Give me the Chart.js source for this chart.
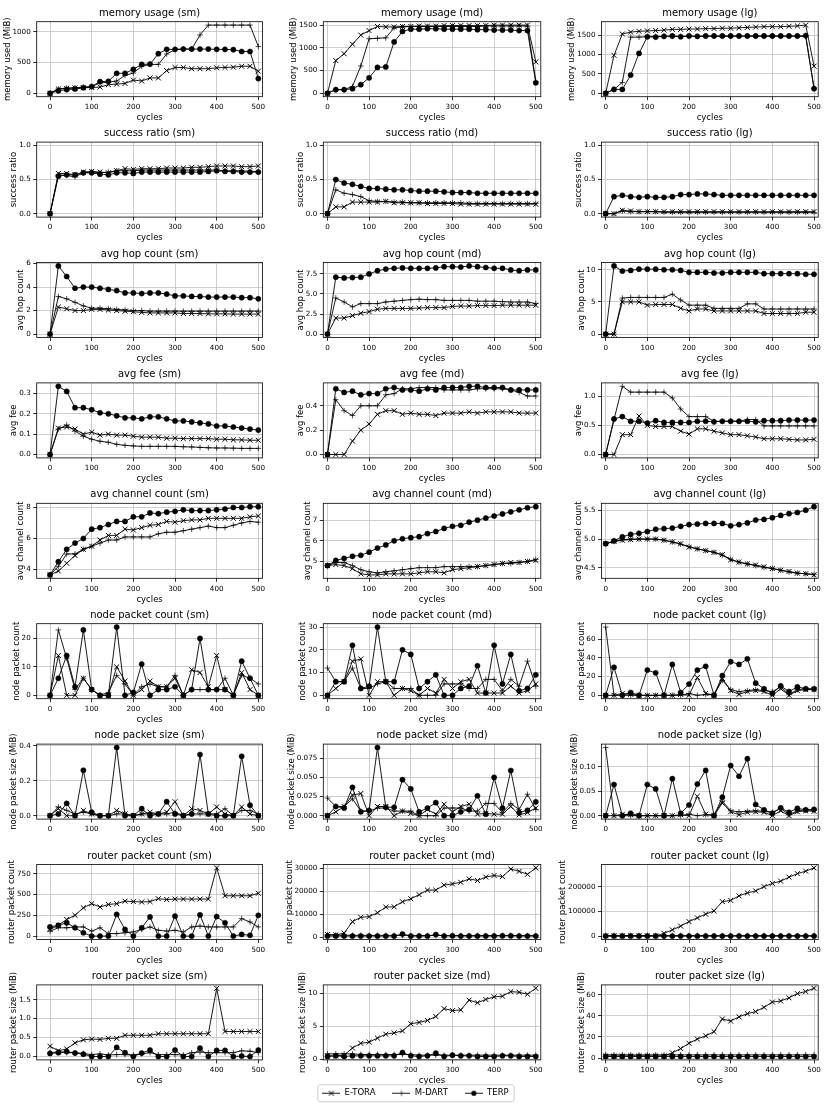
<!DOCTYPE html>
<html>
<head>
<meta charset="utf-8">
<script src="https://cdn.jsdelivr.net/npm/chart.js@4.4.1/dist/chart.umd.min.js"></script>
<style>
  html, body { margin: 0; padding: 0; background: #fff; }
  body { width: 831px; height: 1105px; position: relative; overflow: hidden; }
  canvas { position: absolute; }
</style>
</head>
<body>
<script>
/* ---------- data ---------- */
const cycles = [0, 20, 40, 60, 80, 100, 120, 140, 160, 180, 200, 220, 240, 260, 280, 300, 320, 340, 360, 380, 400, 420, 440, 460, 480, 500];
const cycleTicks = ['0', '100', '200', '300', '400', '500'];

// memory usage
const memSmETora = [0, 70, 80, 85, 90, 95, 100, 140, 150, 160, 215, 200, 250, 250, 370, 420, 420, 400, 400, 400, 415, 420, 425, 440, 440, 360];
const memSmMDart = [0, 70, 85, 90, 100, 110, 170, 180, 200, 290, 330, 440, 470, 470, 640, 710, 720, 720, 950, 1110, 1110, 1110, 1110, 1110, 1110, 760];
const memSmTerp = [0, 40, 60, 70, 90, 110, 190, 195, 325, 325, 390, 470, 475, 645, 715, 715, 720, 720, 720, 720, 715, 715, 710, 680, 680, 240];
const memSmTicks = ['0', '500', '1000'];
const memMdETora = [0, 720, 870, 1080, 1280, 1380, 1470, 1460, 1460, 1470, 1470, 1480, 1480, 1480, 1490, 1490, 1490, 1490, 1490, 1490, 1500, 1500, 1500, 1500, 1500, 690];
const memMdMDart = [0, 80, 80, 150, 600, 1200, 1210, 1220, 1440, 1460, 1470, 1470, 1470, 1470, 1470, 1470, 1470, 1470, 1470, 1480, 1480, 1480, 1480, 1480, 1480, 260];
const memMdTerp = [0, 80, 80, 100, 190, 340, 570, 580, 1130, 1360, 1410, 1410, 1420, 1420, 1410, 1410, 1410, 1410, 1400, 1400, 1390, 1390, 1390, 1380, 1380, 230];
const memMdTicks = ['0', '500', '1000', '1500'];
const memLgETora = [0, 980, 1530, 1580, 1600, 1610, 1620, 1630, 1650, 1650, 1660, 1660, 1670, 1670, 1680, 1680, 1690, 1700, 1710, 1720, 1720, 1720, 1730, 1740, 1760, 700];
const memLgMDart = [0, 100, 280, 1450, 1450, 1460, 1470, 1470, 1470, 1470, 1470, 1470, 1470, 1470, 1470, 1470, 1470, 1470, 1470, 1470, 1470, 1470, 1470, 1470, 1470, 130];
const memLgTerp = [0, 100, 100, 470, 1030, 1460, 1450, 1470, 1480, 1460, 1480, 1470, 1480, 1480, 1480, 1480, 1480, 1480, 1480, 1480, 1480, 1480, 1480, 1480, 1490, 120];
const memLgTicks = ['0', '500', '1000', '1500'];

// success ratio
const succSmETora = [0, 0.59, 0.59, 0.57, 0.61, 0.62, 0.61, 0.60, 0.63, 0.66, 0.65, 0.66, 0.66, 0.66, 0.67, 0.67, 0.67, 0.68, 0.68, 0.69, 0.70, 0.70, 0.70, 0.69, 0.69, 0.70];
const succSmMDart = [0, 0.57, 0.56, 0.54, 0.60, 0.61, 0.60, 0.61, 0.63, 0.63, 0.63, 0.64, 0.64, 0.64, 0.64, 0.64, 0.64, 0.64, 0.64, 0.64, 0.64, 0.63, 0.63, 0.63, 0.62, 0.62];
const succSmTerp = [0, 0.55, 0.57, 0.57, 0.60, 0.60, 0.58, 0.57, 0.60, 0.60, 0.59, 0.61, 0.61, 0.61, 0.61, 0.61, 0.61, 0.61, 0.61, 0.62, 0.63, 0.62, 0.62, 0.61, 0.61, 0.61];
const succMdETora = [0, 0.10, 0.10, 0.17, 0.17, 0.17, 0.17, 0.18, 0.16, 0.16, 0.16, 0.16, 0.15, 0.15, 0.15, 0.15, 0.14, 0.14, 0.14, 0.14, 0.14, 0.14, 0.14, 0.14, 0.14, 0.14];
const succMdMDart = [0, 0.35, 0.30, 0.28, 0.25, 0.19, 0.18, 0.18, 0.17, 0.17, 0.16, 0.16, 0.16, 0.16, 0.16, 0.16, 0.16, 0.15, 0.15, 0.15, 0.15, 0.15, 0.15, 0.15, 0.15, 0.15];
const succMdTerp = [0, 0.50, 0.45, 0.43, 0.40, 0.37, 0.37, 0.36, 0.35, 0.35, 0.34, 0.33, 0.33, 0.33, 0.32, 0.31, 0.31, 0.31, 0.30, 0.30, 0.30, 0.30, 0.30, 0.30, 0.30, 0.30];
const succLgETora = [0, 0, 0.05, 0.04, 0.03, 0.03, 0.03, 0.03, 0.03, 0.03, 0.03, 0.03, 0.03, 0.03, 0.03, 0.03, 0.03, 0.03, 0.03, 0.03, 0.03, 0.03, 0.03, 0.03, 0.03, 0.03];
const succLgMDart = [0, 0, 0.04, 0.03, 0.03, 0.03, 0.03, 0.02, 0.02, 0.02, 0.02, 0.02, 0.02, 0.02, 0.02, 0.02, 0.02, 0.02, 0.02, 0.02, 0.02, 0.02, 0.02, 0.02, 0.02, 0.02];
const succLgTerp = [0, 0.25, 0.27, 0.25, 0.24, 0.25, 0.24, 0.24, 0.25, 0.28, 0.28, 0.29, 0.29, 0.28, 0.27, 0.27, 0.27, 0.27, 0.27, 0.27, 0.27, 0.27, 0.27, 0.27, 0.27, 0.27];
const succTicks = ['0.0', '0.5', '1.0'];
const succLimits = [-0.05, 1.05];

// avg hop count
const hopSmETora = [0, 2.3, 2.15, 2.0, 2.0, 2.1, 2.1, 2.05, 2.0, 1.95, 1.9, 1.85, 1.8, 1.8, 1.8, 1.8, 1.75, 1.75, 1.75, 1.72, 1.72, 1.72, 1.7, 1.7, 1.7, 1.7];
const hopSmMDart = [0, 3.2, 3.0, 2.7, 2.4, 2.2, 2.2, 2.15, 2.1, 2.05, 2.0, 2.0, 1.95, 1.95, 1.95, 1.95, 1.95, 1.95, 1.95, 1.95, 1.95, 1.95, 1.95, 1.95, 1.95, 1.95];
const hopSmTerp = [0, 5.8, 4.9, 3.9, 4.0, 4.0, 3.9, 3.8, 3.7, 3.5, 3.5, 3.45, 3.5, 3.5, 3.4, 3.25, 3.25, 3.2, 3.2, 3.15, 3.15, 3.15, 3.15, 3.1, 3.1, 3.0];
const hopSmTicks = ['0', '2', '4', '6'];
const hopMdETora = [0, 2.0, 2.0, 2.3, 2.6, 2.8, 3.1, 3.2, 3.2, 3.2, 3.2, 3.25, 3.3, 3.3, 3.3, 3.45, 3.5, 3.5, 3.55, 3.55, 3.55, 3.6, 3.6, 3.6, 3.6, 3.6];
const hopMdMDart = [0, 4.5, 4.0, 3.4, 3.8, 3.8, 3.8, 4.0, 4.1, 4.2, 4.3, 4.35, 4.3, 4.3, 4.2, 4.2, 4.2, 4.2, 4.1, 4.1, 4.1, 4.05, 4.0, 4.0, 4.0, 3.8];
const hopMdTerp = [0, 7.1, 7.0, 7.05, 7.1, 7.5, 7.9, 8.1, 8.2, 8.25, 8.2, 8.2, 8.2, 8.25, 8.4, 8.4, 8.35, 8.5, 8.4, 8.3, 8.2, 8.2, 8.0, 7.9, 8.0, 8.0];
const hopMdTicks = ['0.0', '2.5', '5.0', '7.5'];
const hopLgETora = [0, 0, 5.0, 5.0, 5.0, 4.5, 4.6, 4.6, 4.6, 4.0, 3.6, 3.9, 3.9, 3.6, 3.6, 3.6, 3.6, 3.6, 3.6, 3.2, 3.2, 3.2, 3.2, 3.2, 3.4, 3.4];
const hopLgMDart = [0, 0, 5.6, 5.7, 5.7, 5.7, 5.7, 5.7, 6.2, 5.3, 4.5, 4.5, 4.5, 4.0, 4.0, 4.0, 4.0, 4.7, 4.7, 3.9, 3.9, 3.9, 3.9, 3.9, 3.9, 3.9];
const hopLgTerp = [0, 10.6, 9.8, 9.9, 10.1, 10.1, 10.1, 10.0, 10.0, 9.9, 9.6, 9.6, 9.6, 9.5, 9.5, 9.6, 9.6, 9.6, 9.6, 9.4, 9.4, 9.4, 9.4, 9.4, 9.3, 9.3];
const hopLgTicks = ['0', '5', '10'];

// avg fee
const feeSmETora = [0, 0.13, 0.135, 0.125, 0.10, 0.11, 0.095, 0.10, 0.095, 0.095, 0.09, 0.085, 0.085, 0.085, 0.08, 0.08, 0.078, 0.078, 0.078, 0.078, 0.075, 0.075, 0.072, 0.072, 0.07, 0.07];
const feeSmMDart = [0, 0.125, 0.145, 0.115, 0.09, 0.075, 0.065, 0.06, 0.05, 0.045, 0.042, 0.04, 0.04, 0.04, 0.04, 0.04, 0.038, 0.037, 0.035, 0.033, 0.032, 0.032, 0.031, 0.03, 0.03, 0.03];
const feeSmTerp = [0, 0.335, 0.31, 0.23, 0.23, 0.22, 0.205, 0.20, 0.19, 0.18, 0.18, 0.175, 0.185, 0.185, 0.175, 0.165, 0.165, 0.16, 0.155, 0.15, 0.14, 0.14, 0.135, 0.13, 0.125, 0.12];
const feeSmTicks = ['0.0', '0.1', '0.2', '0.3'];
const feeMdETora = [0, 0, 0, 0.11, 0.20, 0.25, 0.33, 0.36, 0.36, 0.33, 0.34, 0.33, 0.33, 0.32, 0.34, 0.34, 0.34, 0.35, 0.34, 0.35, 0.35, 0.35, 0.35, 0.34, 0.34, 0.34];
const feeMdMDart = [0, 0.45, 0.36, 0.32, 0.40, 0.40, 0.40, 0.49, 0.50, 0.54, 0.54, 0.55, 0.55, 0.55, 0.53, 0.53, 0.53, 0.53, 0.54, 0.54, 0.54, 0.54, 0.53, 0.51, 0.48, 0.48];
const feeMdTerp = [0, 0.54, 0.51, 0.52, 0.49, 0.50, 0.50, 0.54, 0.55, 0.53, 0.53, 0.52, 0.54, 0.53, 0.55, 0.55, 0.55, 0.56, 0.56, 0.55, 0.55, 0.55, 0.53, 0.53, 0.53, 0.53];
const feeMdTicks = ['0.0', '0.2', '0.4'];
const feeLgETora = [0, 0, 0.34, 0.34, 0.66, 0.50, 0.48, 0.48, 0.48, 0.40, 0.35, 0.44, 0.44, 0.40, 0.37, 0.34, 0.34, 0.32, 0.30, 0.27, 0.27, 0.27, 0.26, 0.25, 0.25, 0.26];
const feeLgMDart = [0, 0.6, 1.17, 1.07, 1.07, 1.07, 1.07, 1.07, 0.97, 0.78, 0.65, 0.65, 0.65, 0.57, 0.57, 0.57, 0.57, 0.60, 0.60, 0.49, 0.49, 0.49, 0.49, 0.49, 0.49, 0.49];
const feeLgTerp = [0, 0.61, 0.65, 0.57, 0.57, 0.54, 0.58, 0.55, 0.55, 0.55, 0.55, 0.57, 0.57, 0.56, 0.57, 0.57, 0.57, 0.57, 0.56, 0.58, 0.58, 0.58, 0.59, 0.59, 0.59, 0.59];
const feeLgTicks = ['0.0', '0.5', '1.0'];

// avg channel count
const chanSmETora = [3.65, 3.9, 4.4, 4.9, 5.3, 5.5, 5.9, 6.2, 6.2, 6.6, 6.55, 6.7, 6.85, 6.9, 7.1, 7.05, 7.15, 7.2, 7.2, 7.3, 7.3, 7.3, 7.3, 7.3, 7.4, 7.45];
const chanSmMDart = [3.65, 4.2, 5.0, 5.0, 5.3, 5.5, 5.7, 5.9, 5.9, 6.1, 6.1, 6.1, 6.1, 6.3, 6.4, 6.4, 6.5, 6.6, 6.7, 6.8, 6.7, 6.7, 6.85, 7.0, 7.1, 7.05];
const chanSmTerp = [3.65, 4.5, 5.3, 5.7, 6.0, 6.6, 6.7, 6.9, 7.1, 7.1, 7.4, 7.4, 7.65, 7.6, 7.7, 7.75, 7.85, 7.8, 7.8, 7.8, 7.85, 7.9, 8.0, 8.0, 8.05, 8.05];
const chanSmTicks = ['4', '6', '8'];
const chanMdETora = [4.8, 4.85, 4.8, 4.65, 4.4, 4.35, 4.35, 4.4, 4.4, 4.4, 4.4, 4.45, 4.5, 4.5, 4.45, 4.6, 4.65, 4.7, 4.75, 4.8, 4.85, 4.9, 4.95, 4.95, 5.0, 5.05];
const chanMdMDart = [4.8, 4.95, 4.95, 4.8, 4.6, 4.5, 4.45, 4.5, 4.55, 4.6, 4.65, 4.7, 4.7, 4.7, 4.75, 4.75, 4.75, 4.75, 4.75, 4.8, 4.85, 4.9, 4.9, 4.95, 5.0, 5.1];
const chanMdTerp = [4.8, 5.05, 5.15, 5.25, 5.3, 5.45, 5.65, 5.8, 6.0, 6.1, 6.15, 6.2, 6.35, 6.45, 6.6, 6.7, 6.75, 6.9, 7.0, 7.1, 7.2, 7.3, 7.4, 7.5, 7.6, 7.65];
const chanMdTicks = ['5', '6', '7'];
const chanLgETora = [4.92, 4.96, 4.98, 4.99, 5.0, 5.0, 5.0, 4.98, 4.95, 4.92, 4.86, 4.83, 4.80, 4.77, 4.73, 4.64, 4.60, 4.57, 4.55, 4.52, 4.49, 4.46, 4.44, 4.41, 4.40, 4.38];
const chanLgMDart = [4.92, 4.96, 4.99, 5.0, 5.0, 5.0, 5.0, 4.98, 4.95, 4.91, 4.87, 4.83, 4.80, 4.77, 4.72, 4.65, 4.60, 4.57, 4.54, 4.51, 4.49, 4.46, 4.43, 4.41, 4.40, 4.39];
const chanLgTerp = [4.92, 4.97, 5.04, 5.08, 5.10, 5.13, 5.17, 5.18, 5.19, 5.22, 5.25, 5.26, 5.27, 5.27, 5.27, 5.23, 5.25, 5.28, 5.33, 5.34, 5.37, 5.41, 5.44, 5.46, 5.50, 5.56];
const chanLgTicks = ['4.5', '5.0', '5.5'];

// node packet count
const npcSmETora = [0, 14, 0, 0, 6, 2, 0, 0, 10, 5, 0, 2, 5, 3, 3, 6, 0, 9, 8, 3, 14, 2, 0, 8, 2, 0];
const npcSmMDart = [0, 23, 13, 2, 6, 2, 0, 1, 7, 4, 0, 3, 4, 3, 3, 7, 0, 2, 2, 2, 2, 6, 0, 7, 6, 4];
const npcSmTerp = [0, 6, 14, 3, 23, 2, 0, 0, 24, 0, 1, 11, 0, 2, 2, 3, 0, 2, 20, 2, 2, 2, 0, 12, 6, 0];
const npcSmTicks = ['0', '10', '20'];
const npcMdETora = [0, 3, 6, 15, 16, 0, 6, 6, 0, 3, 2, 0, 3, 1, 7, 3, 6, 7, 1, 1, 1, 1, 4, 1, 2, 5];
const npcMdMDart = [12, 6, 6, 12, 3, 3, 5, 6, 3, 3, 3, 0, 0, 0, 5, 5, 5, 3, 3, 7, 7, 2, 7, 4, 15, 4];
const npcMdTerp = [0, 6, 6, 22, 3, 4, 30, 6, 6, 20, 18, 3, 6, 9, 0, 0, 3, 4, 13, 1, 22, 5, 18, 2, 3, 9];
const npcMdTicks = ['0', '10', '20', '30'];
const npcLgETora = [0, 0, 2, 1, 0, 0, 0, 0, 0, 1, 0, 19, 2, 0, 18, 5, 1, 4, 5, 4, 0, 7, 0, 5, 6, 6];
const npcLgMDart = [73, 0, 0, 0, 0, 0, 0, 0, 0, 0, 2, 0, 1, 1, 16, 6, 4, 5, 6, 5, 4, 9, 1, 6, 7, 6];
const npcLgTerp = [0, 30, 0, 3, 0, 27, 24, 0, 33, 3, 12, 27, 31, 0, 21, 36, 33, 39, 13, 7, 2, 10, 4, 9, 7, 7];
const npcLgTicks = ['0', '20', '40', '60'];

// node packet size
const npsSmETora = [0, 0.04, 0, 0, 0.03, 0.01, 0, 0, 0.03, 0.01, 0, 0.01, 0.02, 0.01, 0.02, 0.08, 0, 0.04, 0.03, 0.01, 0.05, 0.01, 0, 0.05, 0.01, 0];
const npsSmMDart = [0, 0.05, 0.03, 0.01, 0.02, 0.01, 0, 0, 0.01, 0.01, 0, 0.01, 0.01, 0.01, 0.01, 0.02, 0, 0.01, 0.01, 0.01, 0.01, 0.04, 0, 0.03, 0.03, 0.01];
const npsSmTerp = [0, 0.01, 0.07, 0, 0.26, 0.02, 0, 0, 0.39, 0, 0, 0.04, 0, 0.01, 0.08, 0.01, 0, 0.01, 0.35, 0.01, 0, 0, 0, 0.34, 0.06, 0];
const npsSmTicks = ['0.0', '0.2', '0.4'];
const npsMdETora = [0, 0.005, 0.012, 0.027, 0.029, 0, 0.012, 0.012, 0, 0.006, 0.003, 0, 0.008, 0.002, 0.015, 0.005, 0.012, 0.015, 0.002, 0.003, 0.002, 0.002, 0.012, 0.001, 0.004, 0.01];
const npsMdMDart = [0.023, 0.012, 0.012, 0.022, 0.006, 0.006, 0.01, 0.01, 0.006, 0.006, 0.006, 0, 0, 0, 0.01, 0.01, 0.01, 0.006, 0.006, 0.016, 0.016, 0.004, 0.016, 0.008, 0.028, 0.008];
const npsMdTerp = [0, 0.012, 0.01, 0.037, 0.005, 0.007, 0.089, 0.011, 0.011, 0.047, 0.035, 0.005, 0.01, 0.017, 0, 0, 0.005, 0.008, 0.026, 0.002, 0.05, 0.01, 0.059, 0.004, 0.007, 0.018];
const npsMdTicks = ['0.000', '0.025', '0.050', '0.075'];
const npsLgETora = [0, 0, 0.003, 0.002, 0, 0, 0, 0, 0, 0.002, 0, 0.04, 0.003, 0, 0.026, 0.008, 0.002, 0.007, 0.008, 0.007, 0, 0.01, 0, 0.008, 0.01, 0.009];
const npsLgMDart = [0.14, 0, 0, 0, 0, 0, 0, 0, 0, 0, 0.003, 0, 0.002, 0.001, 0.03, 0.01, 0.008, 0.009, 0.01, 0.009, 0.007, 0.015, 0.002, 0.01, 0.012, 0.011];
const npsLgTerp = [0, 0.064, 0, 0.005, 0, 0.064, 0.055, 0, 0.076, 0.005, 0.022, 0.065, 0.093, 0, 0.038, 0.103, 0.081, 0.117, 0.023, 0.012, 0.005, 0.016, 0.007, 0.015, 0.012, 0.013];
const npsLgTicks = ['0.00', '0.05', '0.10'];

// router packet count
const rpcSmETora = [80, 130, 200, 250, 340, 390, 350, 380, 390, 420, 415, 410, 415, 450, 440, 445, 445, 445, 445, 445, 820, 485, 485, 485, 485, 515];
const rpcSmMDart = [60, 100, 100, 110, 110, 60, 100, 30, 30, 40, 50, 80, 110, 70, 60, 70, 50, 110, 120, 110, 110, 110, 110, 210, 170, 110];
const rpcSmTerp = [110, 130, 160, 100, 40, 0, 0, 0, 260, 80, 0, 100, 230, 0, 0, 240, 0, 0, 255, 0, 235, 160, 0, 20, 10, 250];
const rpcSmTicks = ['0', '250', '500', '750'];
const rpcMdETora = [1200, 1000, 1800, 6800, 8700, 9000, 10700, 13200, 13300, 15500, 16800, 18600, 20600, 20600, 22800, 23300, 24000, 25500, 24800, 26300, 27000, 26500, 29800, 28800, 27500, 30300];
const rpcMdMDart = [1000, 950, 900, 850, 850, 800, 800, 800, 800, 800, 800, 750, 750, 750, 750, 750, 750, 750, 750, 750, 750, 750, 750, 750, 700, 700];
const rpcMdTerp = [500, 500, 500, 500, 500, 500, 500, 500, 500, 1400, 500, 500, 500, 1200, 500, 600, 500, 500, 500, 500, 500, 600, 600, 500, 500, 500];
const rpcMdTicks = ['0', '10000', '20000', '30000'];
const rpcLgETora = [3000, 3000, 3000, 3000, 3000, 3000, 3000, 13000, 27000, 42000, 60000, 75000, 90000, 103000, 140000, 145000, 163000, 175000, 183000, 200000, 213000, 222000, 238000, 252000, 262000, 275000];
const rpcLgMDart = [4500, 4500, 4400, 4400, 4300, 4300, 4300, 4200, 4200, 4200, 4200, 4200, 4100, 4100, 4100, 4100, 4100, 4100, 4000, 4000, 4000, 4000, 4000, 4000, 4000, 4000];
const rpcLgTerp = [2000, 2000, 2000, 2000, 2000, 2000, 2000, 2000, 2100, 2000, 2000, 2000, 2000, 2000, 2000, 2000, 2000, 2000, 2000, 2000, 2000, 2000, 2000, 2000, 2000, 2000];
const rpcLgTicks = ['0', '100000', '200000'];

// router packet size
const rpsSmETora = [0.27, 0.15, 0.2, 0.36, 0.44, 0.46, 0.45, 0.48, 0.48, 0.56, 0.56, 0.56, 0.56, 0.60, 0.60, 0.60, 0.60, 0.60, 0.60, 0.60, 1.80, 0.66, 0.66, 0.66, 0.66, 0.66];
const rpsSmMDart = [0.1, 0.12, 0.1, 0.1, 0.08, 0.05, 0.07, 0.04, 0.05, 0.05, 0.04, 0.07, 0.1, 0.05, 0.05, 0.05, 0.04, 0.1, 0.12, 0.1, 0.1, 0.1, 0.1, 0.15, 0.14, 0.1];
const rpsSmTerp = [0.08, 0.1, 0.13, 0.09, 0.06, 0, 0, 0, 0.24, 0.1, 0, 0.09, 0.17, 0, 0, 0.17, 0, 0, 0.22, 0, 0.16, 0.16, 0, 0.01, 0, 0.17];
const rpsSmTicks = ['0.0', '0.5', '1.0', '1.5'];
const rpsMdETora = [0.5, 0.5, 0.6, 1.7, 2.4, 2.6, 3.2, 3.8, 4.0, 4.3, 5.4, 5.6, 5.9, 6.5, 7.7, 7.4, 7.5, 9.0, 8.6, 9.1, 9.5, 9.6, 10.3, 10.2, 9.9, 10.8];
const rpsMdMDart = [0.8, 0.8, 0.8, 0.8, 0.7, 0.7, 0.7, 0.7, 0.7, 0.7, 0.7, 0.6, 0.6, 0.6, 0.6, 0.6, 0.6, 0.6, 0.6, 0.6, 0.6, 0.6, 0.6, 0.6, 0.6, 0.6];
const rpsMdTerp = [0.4, 0.5, 0.4, 0.5, 0.5, 0.5, 0.5, 0.5, 0.5, 1.0, 0.5, 0.4, 0.5, 0.9, 0.4, 0.6, 0.5, 0.5, 0.4, 0.4, 0.4, 0.5, 0.5, 0.4, 0.4, 0.4];
const rpsMdTicks = ['0', '5', '10'];
const rpsLgETora = [2, 2, 2, 2, 2, 2, 2, 2, 5, 9, 14, 18, 21, 25, 37, 35, 39, 42, 44, 48, 53, 54, 57, 61, 63, 66];
const rpsLgMDart = [3.2, 3.1, 3.1, 3.0, 3.0, 3.0, 3.0, 3.0, 3.0, 3.0, 3.0, 3.0, 3.0, 3.0, 3.0, 3.0, 3.0, 3.0, 3.0, 3.0, 3.0, 3.0, 3.0, 3.0, 3.0, 3.0];
const rpsLgTerp = [1.5, 1.5, 1.5, 1.5, 1.5, 1.5, 1.5, 1.5, 1.5, 1.5, 1.5, 1.5, 1.5, 1.5, 1.5, 1.5, 1.5, 1.5, 1.5, 1.5, 1.5, 1.5, 1.5, 1.5, 1.5, 1.5];
const rpsLgTicks = ['0', '20', '40', '60'];

const seriesNames = ['E-TORA', 'M-DART', 'TERP'];

// one row per subplot: title, y label, E-TORA, M-DART, TERP, y tick labels, fixed limits
const panels = [
  ['memory usage (sm)', 'memory used (MiB)', memSmETora, memSmMDart, memSmTerp, memSmTicks],
  ['memory usage (md)', 'memory used (MiB)', memMdETora, memMdMDart, memMdTerp, memMdTicks],
  ['memory usage (lg)', 'memory used (MiB)', memLgETora, memLgMDart, memLgTerp, memLgTicks],
  ['success ratio (sm)', 'success ratio', succSmETora, succSmMDart, succSmTerp, succTicks, succLimits],
  ['success ratio (md)', 'success ratio', succMdETora, succMdMDart, succMdTerp, succTicks, succLimits],
  ['success ratio (lg)', 'success ratio', succLgETora, succLgMDart, succLgTerp, succTicks, succLimits],
  ['avg hop count (sm)', 'avg hop count', hopSmETora, hopSmMDart, hopSmTerp, hopSmTicks],
  ['avg hop count (md)', 'avg hop count', hopMdETora, hopMdMDart, hopMdTerp, hopMdTicks],
  ['avg hop count (lg)', 'avg hop count', hopLgETora, hopLgMDart, hopLgTerp, hopLgTicks],
  ['avg fee (sm)', 'avg fee', feeSmETora, feeSmMDart, feeSmTerp, feeSmTicks],
  ['avg fee (md)', 'avg fee', feeMdETora, feeMdMDart, feeMdTerp, feeMdTicks],
  ['avg fee (lg)', 'avg fee', feeLgETora, feeLgMDart, feeLgTerp, feeLgTicks],
  ['avg channel count (sm)', 'avg channel count', chanSmETora, chanSmMDart, chanSmTerp, chanSmTicks],
  ['avg channel count (md)', 'avg channel count', chanMdETora, chanMdMDart, chanMdTerp, chanMdTicks],
  ['avg channel count (lg)', 'avg channel count', chanLgETora, chanLgMDart, chanLgTerp, chanLgTicks],
  ['node packet count (sm)', 'node packet count', npcSmETora, npcSmMDart, npcSmTerp, npcSmTicks],
  ['node packet count (md)', 'node packet count', npcMdETora, npcMdMDart, npcMdTerp, npcMdTicks],
  ['node packet count (lg)', 'node packet count', npcLgETora, npcLgMDart, npcLgTerp, npcLgTicks],
  ['node packet size (sm)', 'node packet size (MiB)', npsSmETora, npsSmMDart, npsSmTerp, npsSmTicks],
  ['node packet size (md)', 'node packet size (MiB)', npsMdETora, npsMdMDart, npsMdTerp, npsMdTicks],
  ['node packet size (lg)', 'node packet size (MiB)', npsLgETora, npsLgMDart, npsLgTerp, npsLgTicks],
  ['router packet count (sm)', 'router packet count', rpcSmETora, rpcSmMDart, rpcSmTerp, rpcSmTicks],
  ['router packet count (md)', 'router packet count', rpcMdETora, rpcMdMDart, rpcMdTerp, rpcMdTicks],
  ['router packet count (lg)', 'router packet count', rpcLgETora, rpcLgMDart, rpcLgTerp, rpcLgTicks],
  ['router packet size (sm)', 'router packet size (MiB)', rpsSmETora, rpsSmMDart, rpsSmTerp, rpsSmTicks],
  ['router packet size (md)', 'router packet size (MiB)', rpsMdETora, rpsMdMDart, rpsMdTerp, rpsMdTicks],
  ['router packet size (lg)', 'router packet size (MiB)', rpsLgETora, rpsLgMDart, rpsLgTerp, rpsLgTicks]
];

/* ---------- layout ---------- */
const FONT = '"DejaVu Sans", sans-serif';
const TICK_SIZE = 7.2, TITLE_SIZE = 10, LABEL_SIZE = 8.5, LEGEND_SIZE = 8.5;
const GRID = '#c2c2c2';

const colPlotLeft = [36.7, 323.3, 601.5];
const colPlotW = [225.8, 217.5, 216.7];
const colXMin = [-32, -10, -10];
const colXMax = [510, 512, 510];
const colCanvasLeft = [0, 272, 550];
const rowTop0 = 21.7, rowPitch = 120.4, plotH = 75;

Chart.defaults.font.family = FONT;
Chart.defaults.color = '#000';
Chart.defaults.animation = false;

const measure = document.createElement('canvas').getContext('2d');
measure.font = TICK_SIZE + 'px ' + FONT;

const framePlugin = {
  id: 'frame',
  afterDraw(chart) {
    const { ctx, chartArea: a } = chart;
    ctx.save();
    ctx.strokeStyle = '#000';
    ctx.lineWidth = 0.8;
    ctx.strokeRect(a.left, a.top, a.right - a.left, a.bottom - a.top);
    ctx.restore();
  }
};

function seriesStyle(name) {
  const base = { borderColor: '#000', borderWidth: 0.9, pointBorderColor: '#000', pointBackgroundColor: '#000', tension: 0 };
  if (name === 'E-TORA') return Object.assign(base, { pointStyle: 'crossRot', pointRadius: 3.5, pointBorderWidth: 1 });
  if (name === 'M-DART') return Object.assign(base, { pointStyle: 'cross', pointRadius: 2.8, pointBorderWidth: 0.7 });
  return Object.assign(base, { pointStyle: 'circle', pointRadius: 2.6, pointBorderWidth: 0.5 });
}

function makeCanvas(left, top, w, h) {
  const cv = document.createElement('canvas');
  cv.width = w; cv.height = h;
  cv.style.left = left + 'px'; cv.style.top = top + 'px';
  cv.style.width = w + 'px'; cv.style.height = h + 'px';
  document.body.appendChild(cv);
  return cv;
}

panels.forEach((p, idx) => {
  const [title, ylabel, eTora, mDart, terp, yTickLabels, limits] = p;
  const row = Math.floor(idx / 3), col = idx % 3;
  const plotLeft = colPlotLeft[col], plotW = colPlotW[col];
  const plotTop = rowTop0 + rowPitch * row;
  const canvasLeft = colCanvasLeft[col];
  const canvasTop = Math.floor(plotTop - 15);
  const titleH = plotTop - canvasTop;
  const yW = plotLeft - canvasLeft;
  const canvasW = Math.ceil(yW + plotW + 8);
  const canvasH = Math.ceil(titleH + plotH + 28);
  const xAxisH = canvasH - titleH - plotH;

  // axis limits: 5% margins around the data, as matplotlib does
  let lo, hi;
  if (limits) { [lo, hi] = limits; } else {
    const all = eTora.concat(mDart, terp);
    const mn = Math.min(...all), mx = Math.max(...all);
    lo = mn - 0.05 * (mx - mn); hi = mx + 0.05 * (mx - mn);
  }
  const yTickVals = yTickLabels.map(Number);
  const xTickVals = cycleTicks.map(Number);

  // y label sits left of the widest tick label
  const widest = Math.max(...yTickLabels.map(t => measure.measureText(t).width));
  const labelCenter = plotLeft - 3.5 - 2.5 - widest - 5;
  const yTitlePad = Math.max(0, labelCenter - canvasLeft - LABEL_SIZE * 1.2 / 2);

  const toPts = arr => cycles.map((c, i) => ({ x: c, y: arr[i] }));
  const datasets = [
    Object.assign({ label: seriesNames[2], data: toPts(terp) }, seriesStyle('TERP')),
    Object.assign({ label: seriesNames[1], data: toPts(mDart) }, seriesStyle('M-DART')),
    Object.assign({ label: seriesNames[0], data: toPts(eTora) }, seriesStyle('E-TORA'))
  ];

  const cv = makeCanvas(canvasLeft, canvasTop, canvasW, canvasH);
  new Chart(cv, {
    type: 'line',
    data: { datasets },
    options: {
      responsive: false,
      animation: false,
      events: [],
      layout: { padding: { left: 0, top: 0, bottom: 0, right: canvasW - yW - plotW } },
      plugins: {
        legend: { display: false },
        tooltip: { enabled: false },
        title: {
          display: true, text: title, color: '#000', fullSize: false,
          font: { size: TITLE_SIZE, weight: 'normal', lineHeight: 1.2 },
          padding: { top: titleH - 12 - 2.4, bottom: 2.4 }
        }
      },
      scales: {
        x: {
          type: 'linear', min: colXMin[col], max: colXMax[col],
          afterBuildTicks: s => { s.ticks = xTickVals.map(v => ({ value: v })); },
          afterFit: s => { s.height = xAxisH; },
          ticks: { autoSkip: false, maxRotation: 0, padding: 2.6, font: { size: TICK_SIZE }, callback: (v, i) => cycleTicks[i] },
          grid: { color: GRID, lineWidth: 0.8, tickLength: 3.5, tickColor: '#000', tickWidth: 0.8 },
          border: { display: false },
          title: { display: true, text: 'cycles', font: { size: LABEL_SIZE, lineHeight: 1.2 }, padding: { top: 0, bottom: xAxisH - 21 - LABEL_SIZE * 0.6 } }
        },
        y: {
          type: 'linear', min: lo, max: hi,
          afterBuildTicks: s => { s.ticks = yTickVals.map(v => ({ value: v })); },
          afterFit: s => { s.width = yW; },
          ticks: { autoSkip: false, padding: 2.5, font: { size: TICK_SIZE }, callback: (v, i) => yTickLabels[i] },
          grid: { color: GRID, lineWidth: 0.8, tickLength: 3.5, tickColor: '#000', tickWidth: 0.8 },
          border: { display: false },
          title: { display: true, text: ylabel, font: { size: LABEL_SIZE, lineHeight: 1.2 }, padding: { top: yTitlePad, bottom: 0 } }
        }
      }
    },
    plugins: [framePlugin]
  });
});

/* ---------- shared legend ---------- */
function handleImage(name) {
  const c = document.createElement('canvas');
  c.width = 18; c.height = 9;
  const g = c.getContext('2d');
  g.strokeStyle = '#000'; g.fillStyle = '#000'; g.lineWidth = 0.9;
  g.beginPath(); g.moveTo(0, 4.5); g.lineTo(18, 4.5); g.stroke();
  const cx = 9, cy = 4.5;
  g.beginPath();
  if (name === 'E-TORA') {
    g.lineWidth = 1;
    g.moveTo(cx - 2.5, cy - 2.5); g.lineTo(cx + 2.5, cy + 2.5);
    g.moveTo(cx - 2.5, cy + 2.5); g.lineTo(cx + 2.5, cy - 2.5); g.stroke();
  } else if (name === 'M-DART') {
    g.lineWidth = 0.7;
    g.moveTo(cx, cy - 2.8); g.lineTo(cx, cy + 2.8); g.stroke();
  } else {
    g.arc(cx, cy, 2.6, 0, Math.PI * 2); g.fill();
  }
  return c;
}

const legendBoxPlugin = {
  id: 'legendBox',
  afterDraw(chart) {
    const boxes = chart.legend.legendHitBoxes;
    if (!boxes || !boxes.length) return;
    const { ctx } = chart;
    const first = boxes[0], last = boxes[boxes.length - 1];
    const cy = first.top + first.height / 2;
    const x0 = first.left - 4.5, x1 = last.left + last.width + 5.5;
    const y0 = cy - 8.5, y1 = cy + 8.5;
    ctx.save();
    ctx.strokeStyle = '#cccccc';
    ctx.lineWidth = 1;
    ctx.beginPath();
    ctx.roundRect(x0, y0, x1 - x0, y1 - y0, 2);
    ctx.stroke();
    ctx.restore();
  }
};

// tall canvas so the legend box is not squeezed to half the height; the body clips the rest
const legendCanvas = makeCanvas(300, 1072, 231, 90);
new Chart(legendCanvas, {
  type: 'line',
  data: { datasets: seriesNames.map(n => ({ label: n, data: [] })) },
  options: {
    responsive: false,
    animation: false,
    events: [],
    scales: { x: { display: false }, y: { display: false } },
    plugins: {
      tooltip: { enabled: false },
      legend: {
        display: true, position: 'top', align: 'center',
        labels: {
          usePointStyle: true, pointStyleWidth: 18, padding: 17, color: '#000',
          font: { size: LEGEND_SIZE },
          generateLabels: () => seriesNames.map((n, i) => ({
            text: n, pointStyle: handleImage(n), fillStyle: '#000', strokeStyle: '#000',
            lineWidth: 0, hidden: false, datasetIndex: i, fontColor: '#000'
          }))
        }
      }
    }
  },
  plugins: [legendBoxPlugin]
});
</script>
</body>
</html>
